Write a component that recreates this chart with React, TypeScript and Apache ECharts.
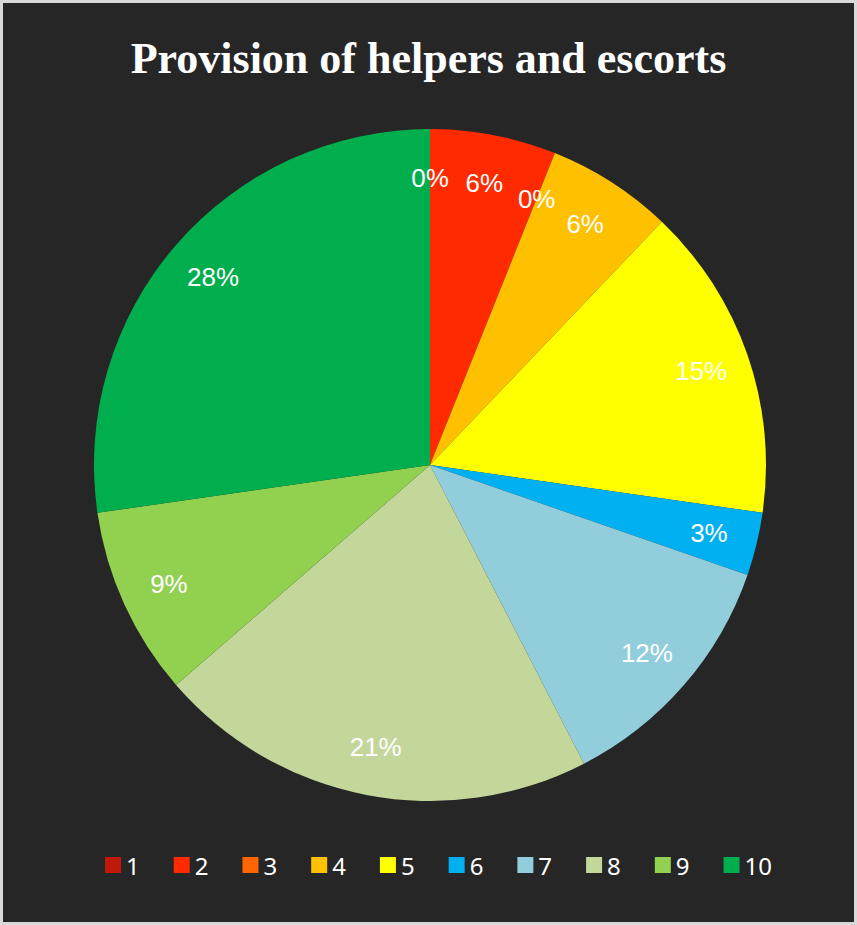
import React, { useEffect, useRef } from "react";
import * as echarts from "echarts";

const titleText = "Provision of helpers and escorts";
const categories = ["1", "2", "3", "4", "5", "6", "7", "8", "9", "10"];
const counts = [0, 2, 0, 2, 5, 1, 4, 7, 3, 9];
const colors = [
  "#C0180A",
  "#FF2A00",
  "#FF6600",
  "#FFC000",
  "#FFFF00",
  "#00B0F0",
  "#92CDDC",
  "#C4D79B",
  "#92D050",
  "#00AE4D",
];

export default function App() {
  const ref = useRef<HTMLDivElement>(null);
  useEffect(() => {
    if (!ref.current) return;
    const chart = echarts.init(ref.current, undefined, { renderer: "svg" });
    const mainData = categories.map((c, i) => ({
      name: c,
      value: counts[i],
      itemStyle: { color: colors[i] },
    }));
    const labelData = categories.map((c, i) => ({ name: c, value: counts[i] }));
    chart.setOption({
      animation: false,
      backgroundColor: "#262626",
      title: {
        text: titleText,
        left: "center",
        top: 28,
        textStyle: {
          color: "#ffffff",
          fontFamily: "Liberation Serif",
          fontWeight: "bold",
          fontSize: 44,
        },
      },
      legend: {
        left: 97,
        top: 845,
        itemWidth: 16,
        itemHeight: 16,
        itemGap: 34,
        icon: "rect",
        selectedMode: false,
        data: categories.map((c, i) => ({ name: c, itemStyle: { color: colors[i] } })),
        textStyle: { color: "#ffffff", fontSize: 24, fontFamily: "Noto Sans" },
      },
      series: [
        {
          type: "pie",
          center: [427, 462],
          radius: [0, 336],
          startAngle: 90,
          clockwise: true,
          silent: true,
          label: { show: false },
          labelLine: { show: false },
          itemStyle: { borderWidth: 0 },
          data: mainData,
        },
        {
          type: "pie",
          center: [427, 462],
          radius: [232, 336],
          startAngle: 90,
          clockwise: true,
          silent: true,
          percentPrecision: 0,
          itemStyle: { color: "rgba(0,0,0,0)", borderWidth: 0 },
          label: {
            show: true,
            position: "inside",
            formatter: "{d}%",
            color: "#ffffff",
            fontSize: 26,
            fontFamily: "Liberation Sans",
          },
          labelLine: { show: false },
          data: labelData,
        },
      ],
    });
    return () => chart.dispose();
  }, []);
  return (
    <div
      style={{
        position: "absolute",
        left: 0,
        top: 0,
        width: 857,
        height: 925,
        background: "#d9d9d9",
      }}
    >
      <div
        ref={ref}
        style={{ position: "absolute", left: 3, top: 3, width: 851, height: 919 }}
      />
    </div>
  );
}
